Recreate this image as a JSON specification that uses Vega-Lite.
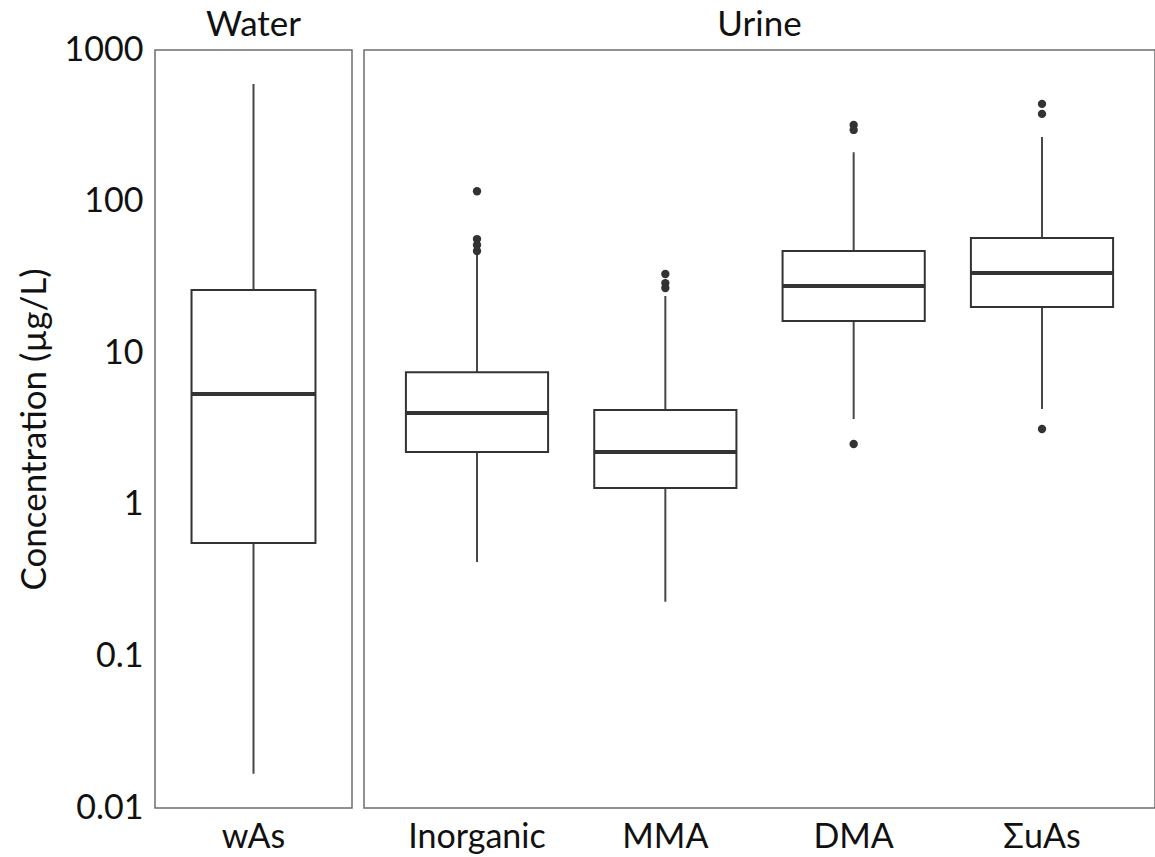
{
  "$schema": "https://vega.github.io/schema/vega-lite/v6.json",
  "background": "white",
  "padding": {"left": 16, "top": 7, "right": 0, "bottom": 0},
  "datasets": {
    "stats": [
      {"panel": "Water", "var": "wAs", "lower": 0.0168, "q1": 0.56, "median": 5.38, "q3": 26.1, "upper": 597},
      {"panel": "Urine", "var": "Inorganic", "lower": 0.42, "q1": 2.23, "median": 4.03, "q3": 7.5, "upper": 45},
      {"panel": "Urine", "var": "MMA", "lower": 0.229, "q1": 1.29, "median": 2.23, "q3": 4.22, "upper": 23.8},
      {"panel": "Urine", "var": "DMA", "lower": 3.68, "q1": 16.3, "median": 27.7, "q3": 47.2, "upper": 212},
      {"panel": "Urine", "var": "ΣuAs", "lower": 4.28, "q1": 20.2, "median": 33.8, "q3": 57.5, "upper": 267}
    ],
    "outliers": [
      {"var": "Inorganic", "value": 117},
      {"var": "Inorganic", "value": 56.6},
      {"var": "Inorganic", "value": 51.7},
      {"var": "Inorganic", "value": 47.2},
      {"var": "MMA", "value": 33.3},
      {"var": "MMA", "value": 29},
      {"var": "MMA", "value": 26.9},
      {"var": "DMA", "value": 320},
      {"var": "DMA", "value": 297},
      {"var": "DMA", "value": 2.52},
      {"var": "ΣuAs", "value": 441},
      {"var": "ΣuAs", "value": 379},
      {"var": "ΣuAs", "value": 3.16}
    ]
  },
  "spacing": 10,
  "hconcat": [
    {
      "width": 197,
      "height": 758,
      "title": {"text": "Water", "offset": -10},
      "layer": [
        {
          "data": {"name": "stats"},
          "transform": [{"filter": "datum.panel === 'Water'"}],
          "mark": {"type": "rule", "color": "#474747", "strokeWidth": 2},
          "encoding": {
            "x": {"field": "var", "type": "nominal", "scale": {"paddingInner": 0, "paddingOuter": 0.1}, "axis": {"title": null, "labelAngle": 0}},
            "y": {"field": "lower", "type": "quantitative", "scale": {"type": "log", "domain": [0.01, 1000], "nice": false}, "axis": {"title": "Concentration (µg/L)", "values": [0.01, 0.1, 1, 10, 100, 1000], "format": "~g"}},
            "y2": {"field": "upper"}
          }
        },
        {
          "data": {"name": "stats"},
          "transform": [{"filter": "datum.panel === 'Water'"}],
          "mark": {"type": "bar", "fill": "white", "stroke": "#333333", "strokeWidth": 2, "width": {"band": 0.755}},
          "encoding": {
            "x": {"field": "var", "type": "nominal"},
            "y": {"field": "q1", "type": "quantitative"},
            "y2": {"field": "q3"}
          }
        },
        {
          "data": {"name": "stats"},
          "transform": [{"filter": "datum.panel === 'Water'"}],
          "mark": {"type": "tick", "color": "#333333", "thickness": 4, "size": 124, "opacity": 1},
          "encoding": {
            "x": {"field": "var", "type": "nominal"},
            "y": {"field": "median", "type": "quantitative"}
          }
        }
      ]
    },
    {
      "width": 791,
      "height": 758,
      "title": {"text": "Urine", "offset": 7},
      "layer": [
        {
          "data": {"name": "stats"},
          "transform": [{"filter": "datum.panel === 'Urine'"}],
          "mark": {"type": "rule", "color": "#474747", "strokeWidth": 2},
          "encoding": {
            "x": {"field": "var", "type": "nominal", "sort": ["Inorganic", "MMA", "DMA", "ΣuAs"], "scale": {"paddingInner": 0, "paddingOuter": 0.1}, "axis": {"title": null, "labelAngle": 0}},
            "y": {"field": "lower", "type": "quantitative", "scale": {"type": "log", "domain": [0.01, 1000], "nice": false}, "axis": null},
            "y2": {"field": "upper"}
          }
        },
        {
          "data": {"name": "stats"},
          "transform": [{"filter": "datum.panel === 'Urine'"}],
          "mark": {"type": "bar", "fill": "white", "stroke": "#333333", "strokeWidth": 2, "width": {"band": 0.755}},
          "encoding": {
            "x": {"field": "var", "type": "nominal", "sort": ["Inorganic", "MMA", "DMA", "ΣuAs"]},
            "y": {"field": "q1", "type": "quantitative"},
            "y2": {"field": "q3"}
          }
        },
        {
          "data": {"name": "stats"},
          "transform": [{"filter": "datum.panel === 'Urine'"}],
          "mark": {"type": "tick", "color": "#333333", "thickness": 4, "size": 143, "opacity": 1},
          "encoding": {
            "x": {"field": "var", "type": "nominal", "sort": ["Inorganic", "MMA", "DMA", "ΣuAs"]},
            "y": {"field": "median", "type": "quantitative"}
          }
        },
        {
          "data": {"name": "outliers"},
          "mark": {"type": "circle", "color": "#333333", "size": 70, "opacity": 1},
          "encoding": {
            "x": {"field": "var", "type": "nominal", "sort": ["Inorganic", "MMA", "DMA", "ΣuAs"]},
            "y": {"field": "value", "type": "quantitative"}
          }
        }
      ]
    }
  ],
  "config": {
    "font": "Lato",
    "view": {"stroke": "#6e6e6e", "strokeWidth": 1.5},
    "axis": {
      "domain": false,
      "ticks": false,
      "grid": false,
      "labelFont": "Lato",
      "labelFontSize": 34,
      "labelColor": "#111111",
      "labelPadding": 12,
      "titleFont": "Lato",
      "titleFontSize": 35,
      "titleFontWeight": "normal",
      "titleColor": "#111111",
      "titlePadding": 12
    },
    "title": {"font": "Lato", "fontSize": 35, "fontWeight": "normal", "color": "#111111", "anchor": "middle"}
  }
}
